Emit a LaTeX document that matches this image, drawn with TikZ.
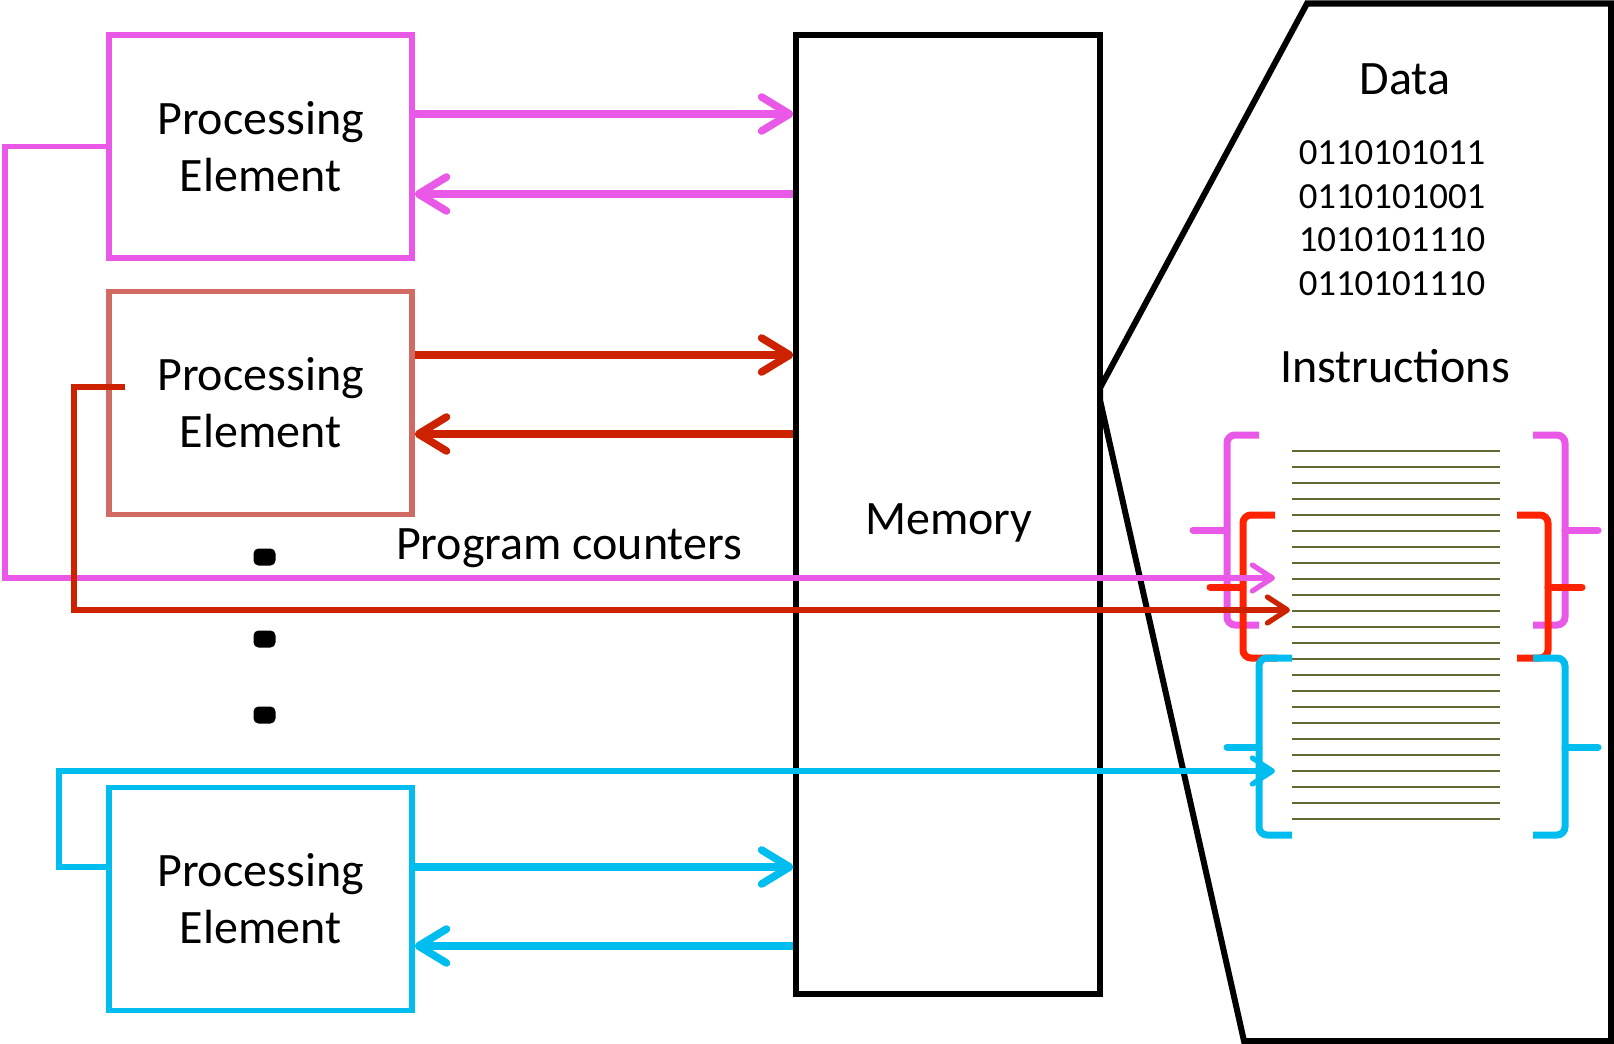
\documentclass[tikz,border=0pt]{standalone}
\usepackage{fontspec}
\setmainfont{Carlito}
\usepackage{tikz}
\usetikzlibrary{arrows.meta,positioning,calc}

\definecolor{pemagenta}{RGB}{234,88,232}
\definecolor{pesalmon}{RGB}{209,106,98}
\definecolor{pered}{RGB}{204,34,0}
\definecolor{brred}{RGB}{255,34,0}
\definecolor{pecyan}{RGB}{0,189,240}
\definecolor{rungolive}{RGB}{94,106,50}

\begin{document}
\begin{tikzpicture}[x=0.5pt,y=-0.5pt,
  pe/.style={draw,line width=2.7pt,minimum width=151.5pt,minimum height=111.5pt,align=center,
    font=\fontsize{24}{28.5}\selectfont},
  mem/.style={draw,line width=2.6pt,minimum width=152pt,minimum height=479.5pt},
  lab/.style={font=\fontsize{24}{28}\selectfont},
  bits/.style={align=center,font=\fontsize{18.4}{21.8}\selectfont},
  bus/.style={line width=3.8pt,-{Straight Barb[length=14pt,width=17pt,round]}},
  pc/.style={line width=2.6pt,-{Straight Barb[length=10pt,width=13pt,round]}},
  brace/.style={line width=3.5pt,rounded corners=4pt},
  spike/.style={line width=3.5pt,line cap=round},
  rung/.style={rungolive,line width=1.4pt},
  dotbox/.style={fill=black,rounded corners=2.5pt,minimum width=11pt,minimum height=8.5pt,inner sep=0pt}]
\useasboundingbox (0,0) rectangle (1614,1044);

\node[pe,pemagenta,text=black] (pe1) at (260.5,146.5) {Processing\\Element};
\node[pe,pesalmon,text=black] (pe2) at (260.5,403) {Processing\\Element};
\node[pe,pecyan,text=black] (pe3) at (260.5,899) {Processing\\Element};
\node[mem] (mem) at (948,514.5) {};
\node[lab] (memtxt) at (949,523) {Memory};
\node[dotbox] (d1) at (264.5,557) {};
\node[dotbox] (d2) at (264.5,639) {};
\node[dotbox] (d3) at (264.5,715) {};
\node[lab] (pclab) at (569,548) {Program counters};

\draw[line width=3pt] (1307,3.5) -- (1100,388) -- (1100,400) -- (1244,1041) -- (1611,1041) -- (1611,3.5) -- cycle;
\node[lab] (data) at (1405,79) {Data};
\node[bits] (words) at (1392,218) {0110101011\\0110101001\\1010101110\\0110101110};
\node[lab] (instr) at (1395,366) {Instructions};

\foreach \i in {0,...,23}
  \draw[rung] (1292,{451+16*\i}) -- (1500,{451+16*\i});

\draw[brace,pemagenta] (1259,435) -- (1227,435) -- (1227,625) -- (1259,625);
\draw[spike,pemagenta] (1227,530) -- (1193,530);
\draw[brace,pemagenta] (1533,435) -- (1565,435) -- (1565,625) -- (1533,625);
\draw[spike,pemagenta] (1565,530) -- (1598,530);
\draw[brace,brred] (1275,515) -- (1243,515) -- (1243,658) -- (1277,658);
\draw[spike,brred] (1243,587) -- (1210,587);
\draw[brace,brred] (1517,515) -- (1548,515) -- (1548,658) -- (1517,658);
\draw[spike,brred] (1548,587) -- (1582,587);
\draw[brace,pecyan] (1292,658) -- (1259,658) -- (1259,835) -- (1292,835);
\draw[spike,pecyan] (1259,747) -- (1227,747);
\draw[brace,pecyan] (1533,658) -- (1565,658) -- (1565,835) -- (1533,835);
\draw[spike,pecyan] (1565,747) -- (1598,747);

\draw[bus,pemagenta] (pe1.east |- 0,114) -- (mem.west |- 0,114);
\draw[bus,pemagenta] (mem.west |- 0,194) -- (pe1.east |- 0,194);
\draw[bus,pered] (pe2.east |- 0,355) -- (mem.west |- 0,355);
\draw[bus,pered] (mem.west |- 0,434) -- (pe2.east |- 0,434);
\draw[bus,pecyan] (pe3.east |- 0,867) -- (mem.west |- 0,867);
\draw[bus,pecyan] (mem.west |- 0,946) -- (pe3.east |- 0,946);

\coordinate (pc1) at (1275,578);
\coordinate (pc2) at (1290,610);
\coordinate (pc3) at (1275,771);
\coordinate (r0) at (125,387);
\draw[pc,pemagenta] (pe1.west) -| (5,578) -- (pc1);
\draw[pc,pered] (r0) -| (74,610) -- (pc2);
\draw[pc,pecyan] (pe3.west |- 0,867) -| (59,771) -- (pc3);
\end{tikzpicture}
\end{document}
